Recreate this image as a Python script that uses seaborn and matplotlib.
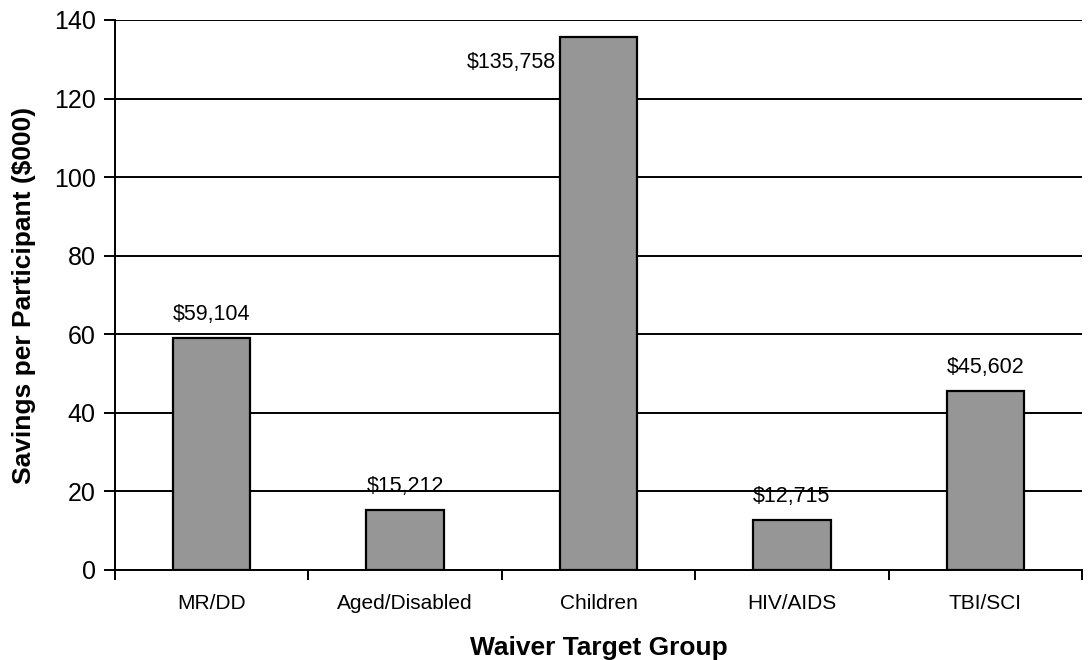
import matplotlib
matplotlib.use("Agg")
import matplotlib.pyplot as plt
import seaborn as sns
import pandas as pd
from matplotlib.ticker import FixedLocator

categories = ["MR/DD", "Aged/Disabled", "Children", "HIV/AIDS", "TBI/SCI"]
values = [59.104, 15.212, 135.758, 12.715, 45.602]
labels = ["$59,104", "$15,212", "$135,758", "$12,715", "$45,602"]
yticks = [0, 20, 40, 60, 80, 100, 120, 140]

sns.set_style("white")
plt.rcParams['font.family'] = ['Liberation Sans', 'DejaVu Sans']
plt.rcParams.update({"text.color": "black", "axes.labelcolor": "black",
                     "xtick.color": "black", "ytick.color": "black"})

df = pd.DataFrame({"group": categories, "value": values})

fig = plt.figure(figsize=(10.88, 6.6), dpi=100)
ax = fig.add_axes([0.1057, 0.1364, 0.9945 - 0.1057, 0.9697 - 0.1364])

sns.barplot(data=df, x="group", y="value", color="#969696", width=0.4,
            edgecolor="black", linewidth=1.6, saturation=1, ax=ax, zorder=3)

ax.set_ylim(0, 140)
ax.set_xlim(-0.5, 4.5)
ax.set_yticks(yticks)
ax.yaxis.grid(True, color="black", linewidth=1.4, zorder=0)
ax.set_axisbelow(True)
for s in ["top", "right"]:
    ax.spines[s].set_visible(False)
for s in ["left", "bottom"]:
    ax.spines[s].set_color("black")
    ax.spines[s].set_linewidth(1.4)
    ax.spines[s].set_zorder(4)

ax.tick_params(axis="y", which="major", length=8, width=1.4, color="black",
               labelsize=18, pad=6, left=True)
ax.tick_params(axis="x", which="major", length=0, labelsize=15, pad=17)
ax.xaxis.set_minor_locator(FixedLocator([-0.5, 0.5, 1.5, 2.5, 3.5, 4.5]))
ax.tick_params(axis="x", which="minor", length=7, width=1.4, color="black", bottom=True)

ax.set_xlabel("Waiver Target Group", fontsize=19, fontweight="bold", labelpad=17)
ax.set_ylabel("Savings per Participant ($000)", fontsize=19, fontweight="bold", labelpad=13)

for i, (v, lab) in enumerate(zip(values, labels)):
    if i == 2:
        ax.annotate(lab, xy=(i - 0.2, v), xytext=(-2.5, -18.5), textcoords="offset points",
                    ha="right", va="center", fontsize=15.5)
    else:
        ax.annotate(lab, xy=(i, v), xytext=(0, 9.5), textcoords="offset points",
                    ha="center", va="bottom", fontsize=15.5)

fig.savefig("out.png", dpi=100)
